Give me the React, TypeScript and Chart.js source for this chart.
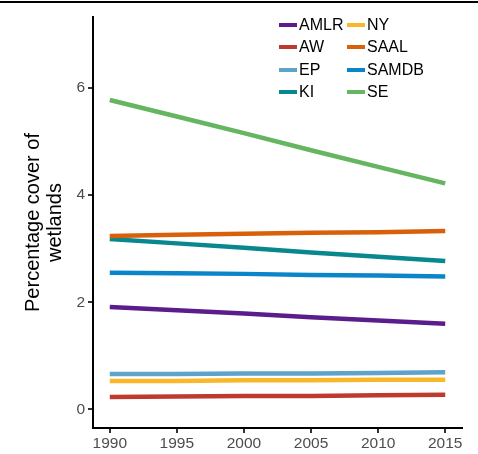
import React, { useEffect, useRef } from "react";
import { Chart, registerables } from "chart.js";

Chart.register(...registerables);

const years = [1990, 1995, 2000, 2005, 2010, 2015];
const seriesNames = ["AMLR", "AW", "EP", "KI", "NY", "SAAL", "SAMDB", "SE"];
const AMLR = [1.91, 1.85, 1.79, 1.72, 1.66, 1.6];
const AW = [0.23, 0.24, 0.25, 0.25, 0.26, 0.27];
const EP = [0.66, 0.66, 0.67, 0.67, 0.68, 0.69];
const KI = [3.18, 3.1, 3.02, 2.93, 2.85, 2.77];
const NY = [0.53, 0.53, 0.54, 0.54, 0.55, 0.55];
const SAAL = [3.24, 3.26, 3.28, 3.3, 3.31, 3.33];
const SAMDB = [2.55, 2.54, 2.53, 2.51, 2.5, 2.48];
const SE = [5.78, 5.47, 5.16, 4.84, 4.53, 4.22];
const seriesValues = [AMLR, AW, EP, KI, NY, SAAL, SAMDB, SE];
const seriesColors = ["#5B1C8C", "#C0392F", "#5EA3C9", "#08878F", "#F8B82A", "#D9600A", "#0B85C9", "#66B561"];
const xTicks = [1990, 1995, 2000, 2005, 2010, 2015];
const yTicks = [0, 2, 4, 6];
const yTitle = ["Percentage cover of", "wetlands"];

const FONT = "'Liberation Sans', Arial, sans-serif";

export default function App() {
  const ref = useRef<HTMLCanvasElement | null>(null);

  useEffect(() => {
    if (!ref.current) return;
    const n = seriesNames.length;
    const chart = new Chart(ref.current, {
      type: "line",
      data: {
        datasets: seriesNames.map((name, i) => ({
          label: name,
          data: years.map((y, j) => ({ x: y, y: seriesValues[i][j] })),
          borderColor: seriesColors[i],
          backgroundColor: seriesColors[i],
          borderWidth: 4.5,
          pointRadius: 0,
          tension: 0,
          order: n - i,
          borderCapStyle: "butt",
        })),
      },
      options: {
        responsive: false,
        animation: false,
        layout: { padding: { top: 17, right: 16, left: 0, bottom: 0 } },
        plugins: { legend: { display: false }, tooltip: { enabled: false } },
        scales: {
          x: {
            type: "linear",
            min: 1988.75,
            max: 2016.25,
            afterBuildTicks: (s: any) => {
              s.ticks = xTicks.map((v) => ({ value: v }));
            },
            afterFit: (s: any) => {
              s.height = 26;
            },
            ticks: {
              autoSkip: false,
              maxRotation: 0,
              padding: 1,
              color: "#4D4D4D",
              font: { family: FONT, size: 15.5 },
              callback: (v: any) => String(v),
            },
            grid: { drawOnChartArea: false, drawTicks: true, tickLength: 5, color: "#333333", lineWidth: 2 },
            border: { display: true, color: "#000000", width: 2 },
          },
          y: {
            type: "linear",
            min: -0.35,
            max: 7.33,
            afterBuildTicks: (s: any) => {
              s.ticks = yTicks.map((v) => ({ value: v }));
            },
            afterFit: (s: any) => {
              s.width = 93;
            },
            ticks: {
              padding: 3,
              color: "#4D4D4D",
              font: { family: FONT, size: 15.5 },
              callback: (v: any) => String(v),
            },
            title: {
              display: true,
              text: yTitle,
              color: "#000000",
              font: { family: FONT, size: 20, lineHeight: 1.1 },
              padding: { top: 22, bottom: 0 },
            },
            grid: { drawOnChartArea: false, drawTicks: true, tickLength: 5, color: "#333333", lineWidth: 2 },
            border: { display: true, color: "#000000", width: 2 },
          },
        },
      },
    });
    return () => chart.destroy();
  }, []);

  const half = Math.ceil(seriesNames.length / 2);

  return (
    <div style={{ position: "absolute", left: 0, top: 0, width: 478, height: 454, background: "#fff" }}>
      <canvas ref={ref} width={478} height={454} style={{ width: 478, height: 454, display: "block" }} />
      <div style={{ position: "absolute", left: 0, top: 1, width: 478, height: 2, background: "#000" }} />
      {seriesNames.map((name, i) => {
        const col = Math.floor(i / half);
        const row = i % half;
        const left = col === 0 ? 279 : 347;
        const cy = 24.7 + row * 22.4;
        return (
          <div
            key={name}
            style={{
              position: "absolute",
              left,
              top: cy - 10,
              height: 20,
              display: "flex",
              alignItems: "center",
              fontFamily: FONT,
              fontSize: 16,
              color: "#000",
              whiteSpace: "nowrap",
            }}
          >
            <span style={{ display: "inline-block", width: 18, height: 4, background: seriesColors[i], marginRight: 2 }} />
            <span>{name}</span>
          </div>
        );
      })}
    </div>
  );
}
